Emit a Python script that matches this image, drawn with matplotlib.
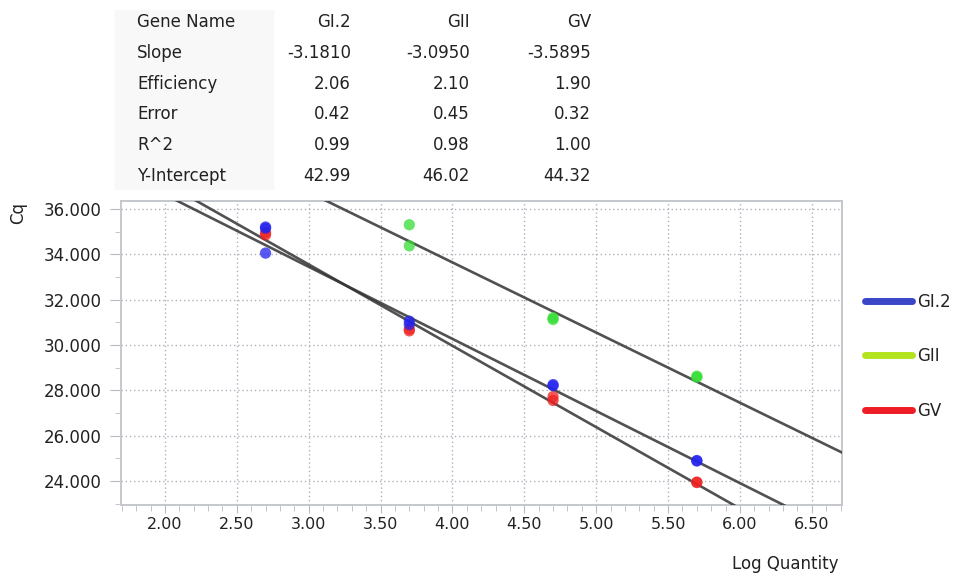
import numpy as np
import matplotlib
matplotlib.use("Agg")
import matplotlib.pyplot as plt
from matplotlib.lines import Line2D
from matplotlib.ticker import MultipleLocator, FormatStrFormatter

plt.rcParams['font.family'] = ['DejaVu Sans']

# standard curve summary (table above the plot)
genes = ['GI.2', 'GII', 'GV']
row_names = ['Slope', 'Efficiency', 'Error', 'R^2', 'Y-Intercept']
slopes = [-3.1810, -3.0950, -3.5895]
efficiency = [2.06, 2.10, 1.90]
error = [0.42, 0.45, 0.32]
r2 = [0.99, 0.98, 1.00]
intercepts = [42.99, 46.02, 44.32]

# replicate points (log quantity, Cq)
gi2_x = [2.7, 2.7, 2.7, 3.7, 3.7, 4.7, 4.7, 5.7, 5.7]
gi2_y = [35.20, 35.15, 34.05, 31.05, 30.90, 28.25, 28.20, 24.90, 24.88]
gii_x = [3.7, 3.7, 4.7, 4.7, 5.7, 5.7]
gii_y = [35.30, 34.37, 31.20, 31.12, 28.62, 28.58]
gv_x = [2.7, 2.7, 3.7, 3.7, 4.7, 4.7, 5.7, 5.7]
gv_y = [34.95, 34.85, 30.70, 30.62, 27.72, 27.55, 23.95, 23.93]

dot_colors = ['#2222ee', '#33dd33', '#ee2020']
legend_colors = ['#3b45c8', '#b4e41e', '#ee1c25']

fig = plt.figure(figsize=(9.63, 5.76), dpi=100)
ax = fig.add_axes([0.1257, 0.1233, 0.7487, 0.5278])

xlim = (1.695, 6.71)
ylim = (22.94, 36.35)

# regression lines from the table, drawn over the full x range
xs = np.array(xlim)
for m, b in zip(slopes, intercepts):
    ax.plot(xs, m * xs + b, color='#333333', lw=1.9, alpha=0.85, zorder=3,
            solid_capstyle='round')

for (px, py), c in zip([(gv_x, gv_y), (gi2_x, gi2_y), (gii_x, gii_y)],
                       [dot_colors[2], dot_colors[0], dot_colors[1]]):
    ax.scatter(px, py, s=66, color=c, alpha=0.75, edgecolors='none', zorder=4)

ax.set_xlim(*xlim)
ax.set_ylim(*ylim)
ax.xaxis.set_major_locator(MultipleLocator(0.5))
ax.xaxis.set_minor_locator(MultipleLocator(0.1))
ax.yaxis.set_major_locator(MultipleLocator(2))
ax.yaxis.set_minor_locator(MultipleLocator(1))
ax.xaxis.set_major_formatter(FormatStrFormatter('%.2f'))
ax.yaxis.set_major_formatter(FormatStrFormatter('%.3f'))

ax.grid(True, which='major', linestyle=(0, (1, 2)), color='#aab2ba', lw=1)
for s in ax.spines.values():
    s.set_color('#c4c8cc')
    s.set_linewidth(1.4)
ax.tick_params(which='major', length=8, color='#b8bcc0', labelsize=12,
               labelcolor='#222222', pad=6)
ax.tick_params(which='minor', length=4, color='#b8bcc0')
ax.tick_params(axis='x', which='major', length=6, labelsize=11.5, pad=3)
ax.tick_params(axis='x', which='minor', length=4)

ax.set_ylabel('Cq', fontsize=12, color='#222222')
ax.yaxis.set_label_coords(-0.13, 0.96)
ax.set_xlabel('Log Quantity', fontsize=12, color='#222222', ha='right')
ax.xaxis.set_label_coords(0.995, -0.165)

# legend on the right
handles = [Line2D([0], [0], color=c, lw=5, solid_capstyle='round')
           for c in legend_colors]
fig.legend(handles, genes, loc='upper left', bbox_to_anchor=(0.883, 0.518),
           frameon=False, fontsize=12, handlelength=2.8, handletextpad=0.3,
           labelspacing=2.2, labelcolor='#222222')

# table above the plot
fig.patches.append(plt.Rectangle((115 / 963, 1 - 189 / 576), 158 / 963,
                                 179 / 576, transform=fig.transFigure,
                                 color='#f8f8f8', zorder=0))
rows = [genes, slopes, efficiency, error, r2, intercepts]
fmts = [None, '%.4f', '%.2f', '%.2f', '%.2f', '%.2f']
names = ['Gene Name'] + row_names
col_right = [351, 470, 591]
for i, (name, vals, f) in enumerate(zip(names, rows, fmts)):
    y = 1 - (22 + i * 30.8) / 576
    fig.text(137 / 963, y, name, fontsize=12, color='#222222', va='center')
    for xr, v in zip(col_right, vals):
        txt = v if f is None else f % v
        fig.text(xr / 963, y, txt, fontsize=12, color='#222222',
                 va='center', ha='right')

fig.savefig('out.png', dpi=100)
